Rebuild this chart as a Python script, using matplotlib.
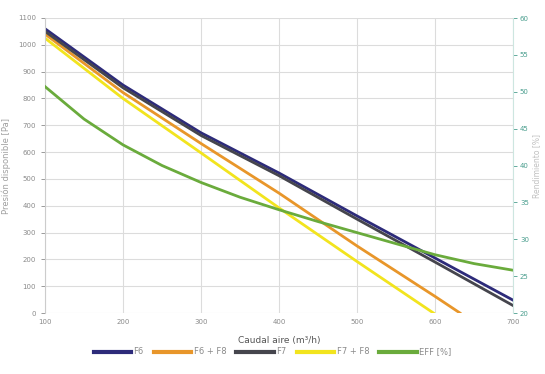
import matplotlib.pyplot as plt

# Values
caudal = [100, 200, 300, 400, 500, 600, 700]
f6 = [1060, 850, 672, 522, 362, 205, 48]
f7 = [1050, 840, 662, 512, 350, 190, 28]

caudal_f6f8 = [100, 200, 300, 400, 500, 600, 632]
f6_f8 = [1040, 822, 632, 447, 250, 62, 0]

caudal_f7f8 = [100, 200, 300, 400, 500, 598]
f7_f8 = [1025, 800, 597, 392, 192, 0]

caudal_eff = [100, 150, 200, 250, 300, 350, 400, 450, 500, 550, 600, 650, 700]
eff = [50.7, 46.3, 42.8, 40.0, 37.7, 35.7, 34.0, 32.4, 30.9, 29.4, 27.9, 26.7, 25.8]

x_ticks = [100, 200, 300, 400, 500, 600, 700]
y_ticks = list(range(0, 1101, 100))
eff_ticks = [20, 25, 30, 35, 40, 45, 50, 55, 60]

gray = '#8a8a8a'
teal = '#4a9e8e'

fig = plt.figure(figsize=(5.45, 3.74), dpi=100)
ax = fig.add_axes([45 / 545, 1 - 313 / 374, (513 - 45) / 545, (313 - 18) / 374])
ax2 = ax.twinx()

lw = 2.0
ax.plot(caudal, f6, color='#2d2b7a', lw=lw, label='F6')
ax.plot(caudal_f6f8, f6_f8, color='#e8962a', lw=lw, label='F6 + F8')
ax.plot(caudal, f7, color='#45454d', lw=lw, label='F7')
ax.plot(caudal_f7f8, f7_f8, color='#f2e41e', lw=lw, label='F7 + F8')
ax2.plot(caudal_eff, eff, color='#6aab3c', lw=lw, label='EFF [%]')

ax.set_xlim(100, 700)
ax.set_ylim(0, 1100)
ax2.set_ylim(20, 60)
ax.set_xticks(x_ticks)
ax.set_yticks(y_ticks)
ax2.set_yticks(eff_ticks)

ax.grid(True, color='#dcdcdc', lw=0.8)
ax.set_axisbelow(True)
for a in (ax, ax2):
    for s in a.spines.values():
        s.set_visible(False)
ax.spines['left'].set_visible(True)
ax.spines['left'].set_color('#cccccc')
ax2.spines['right'].set_visible(True)
ax2.spines['right'].set_color('#cde6e0')

ax.tick_params(axis='both', labelsize=5, colors=gray, length=3, width=0.6)
ax.tick_params(axis='x', length=0, pad=4)
ax2.tick_params(axis='y', labelsize=5, colors=teal, length=3, width=0.6, pad=2)

ax.set_xlabel('Caudal aire (m³/h)', fontsize=6.5, color='#555555', labelpad=8)
ax.set_ylabel('Presión disponible [Pa]', fontsize=6, color='#a0a0a0', labelpad=5)
ax2.set_ylabel('Rendimiento [%]', fontsize=5.5, color='#c0c0c0', labelpad=2)

h1, l1 = ax.get_legend_handles_labels()
h2, l2 = ax2.get_legend_handles_labels()
leg = fig.legend(h1 + h2, l1 + l2, loc='center', bbox_to_anchor=(0.5, 1 - 352 / 374),
                 ncol=5, fontsize=6, frameon=False, handlelength=4.5,
                 columnspacing=1.2, handletextpad=0.3)
for t in leg.get_texts():
    t.set_color(gray)
for line in leg.get_lines():
    line.set_linewidth(3)

fig.savefig('out.png', dpi=100)
